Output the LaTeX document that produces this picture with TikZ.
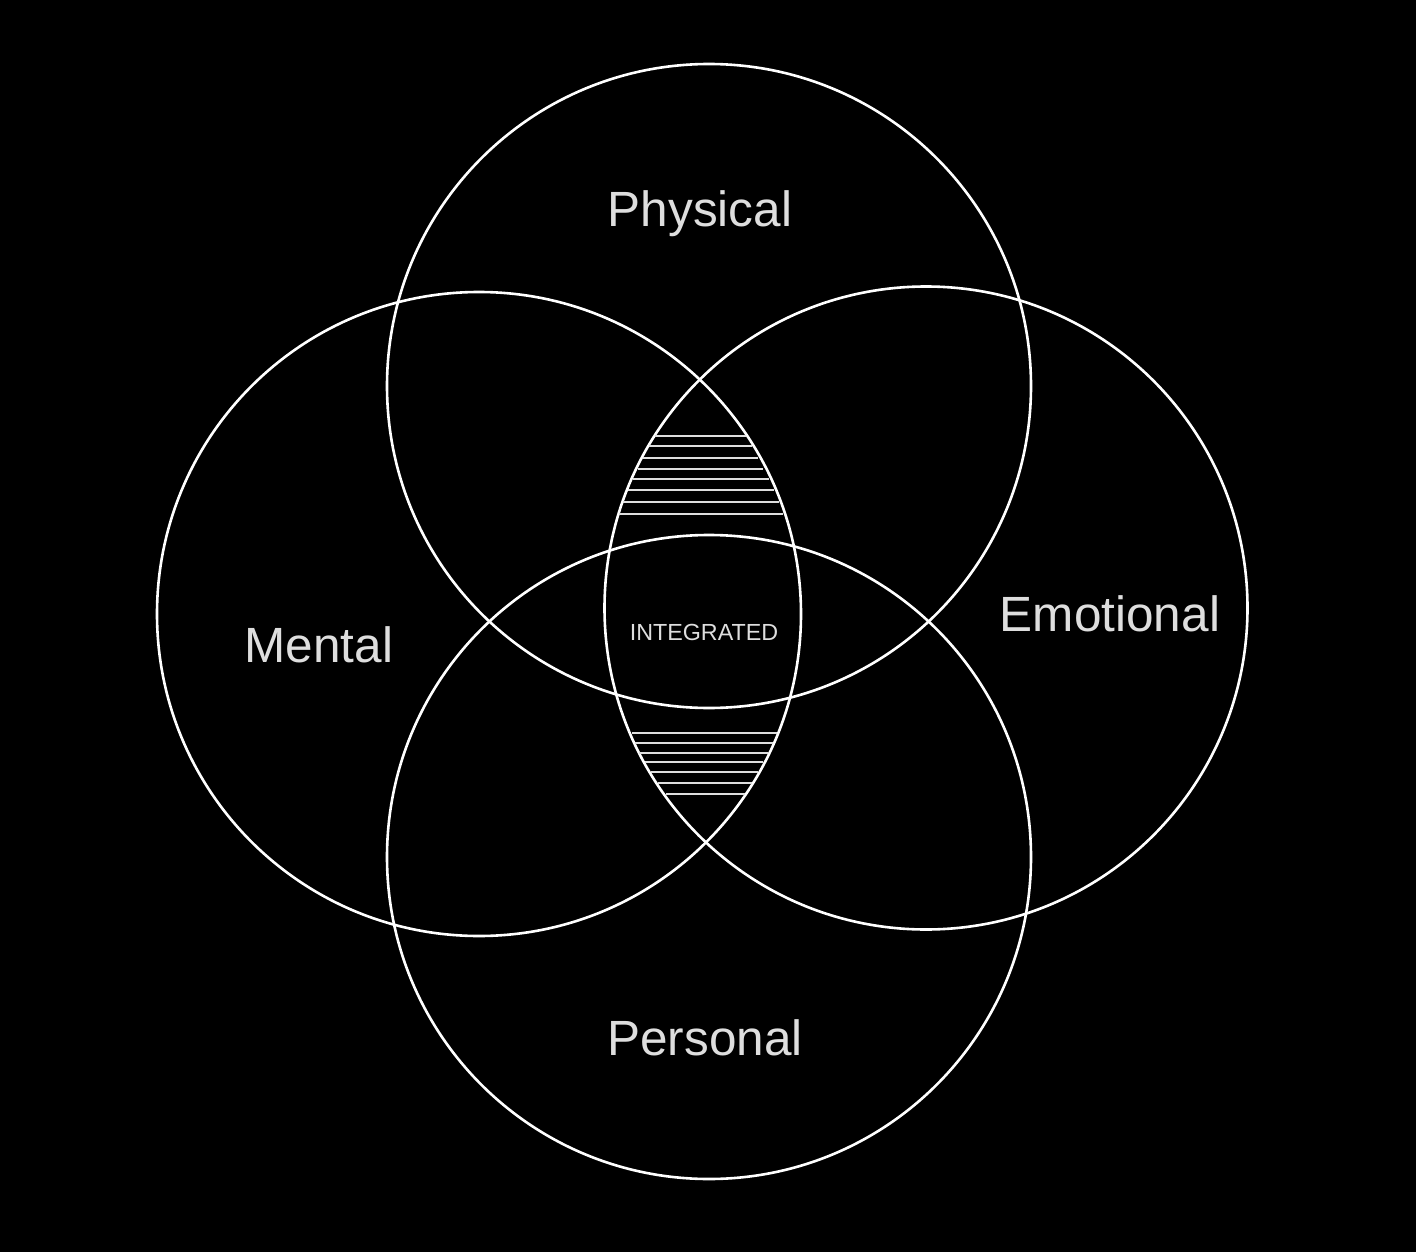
\documentclass[tikz,border=0pt]{standalone}
\usepackage{fontspec}
\setmainfont{Liberation Sans}
\definecolor{txt}{RGB}{222,222,222}
\begin{document}
\begin{tikzpicture}[x=1pt,y=-1pt,
  ring/.style={draw=white,line width=2.6pt},
  hatch/.style={draw=txt,line width=1.6pt},
  big/.style={text=txt,font=\fontsize{49.5}{55}\selectfont,inner sep=0pt},
  small/.style={text=txt,font=\fontsize{23.3}{26}\selectfont,inner sep=0pt}]
\fill[black] (0,0) rectangle (1416,1252);
\useasboundingbox (0,0) rectangle (1416,1252);
\node[ring,circle,minimum size=644pt] (phys) at (709,386) {};
\node[ring,circle,minimum size=644pt] (ment) at (479,614) {};
\node[ring,circle,minimum size=643pt] (emot) at (926,608) {};
\node[ring,circle,minimum size=644pt] (pers) at (709,857) {};
% upper hatching
\foreach \y/\a/\b in {436/655/746, 446/649/752, 458/643/758, 469/638/763, 479/633/769, 490/628/774, 502/623/779, 514/619/783}{
  \draw[hatch] (\a,\y) -- (\b,\y);
}
% lower hatching
\foreach \y/\a/\b in {733/632/777, 743/635/773, 753/639/768, 762/645/763, 772/651/758, 783/658/752, 794/666/745}{
  \draw[hatch] (\a,\y) -- (\b,\y);
}
\node[big] (lphys) at (700,214) {Physical};
\node[big] (lemot) at (1110,614) {Emotional};
\node[big] (lment) at (319,645) {Mental};
\node[big] (lpers) at (705,1038) {Personal};
\node[small] (lint) at (704,632) {INTEGRATED};
\end{tikzpicture}
\end{document}
